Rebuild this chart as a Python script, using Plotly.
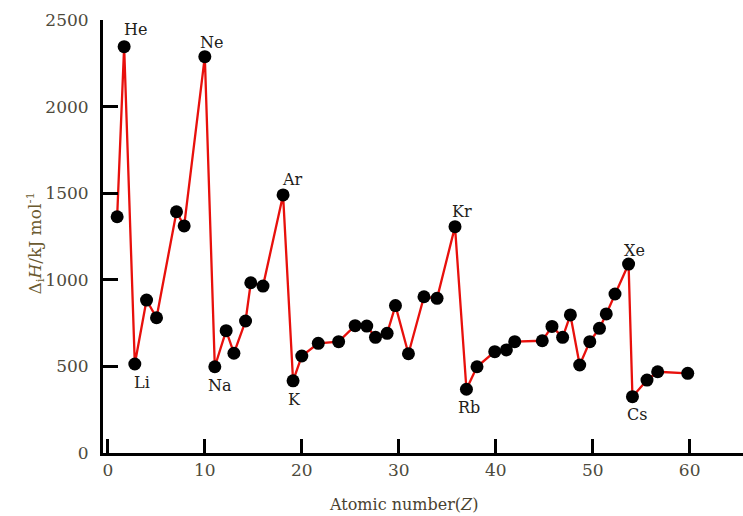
import plotly.graph_objects as go

# Data
atomic_number = [0.96, 1.68, 2.78, 3.99, 5.02, 7.08, 7.87, 10.0, 11.03, 12.2,
                 13.0, 14.2, 14.74, 16.0, 18.07, 19.1, 20.0, 21.7, 23.8, 25.5,
                 26.7, 27.6, 28.8, 29.66, 31.0, 32.6, 33.95, 35.8, 36.98, 38.07,
                 39.9, 41.1, 41.96, 44.8, 45.8, 46.9, 47.7, 48.66, 49.7, 50.7,
                 51.4, 52.3, 53.7, 54.1, 55.6, 56.7, 59.8]
ionization_enthalpy = [1364, 2346, 514, 883, 781, 1393, 1311, 2288, 498, 706,
                       576, 762, 983, 964, 1490, 417, 560, 633, 643, 735,
                       733, 668, 691, 851, 573, 902, 893, 1307, 368, 498,
                       585, 595, 643, 648, 731, 668, 797, 508, 643, 720,
                       803, 918, 1091, 325, 421, 469, 460]

element_labels = ["He", "Li", "Ne", "Na", "Ar", "K", "Kr", "Rb", "Xe", "Cs"]
label_index = [1, 2, 7, 8, 14, 15, 27, 28, 42, 43]

y_ticks = [0, 500, 1000, 1500, 2000, 2500]
x_ticks = [0, 10, 20, 30, 40, 50, 60]

# label offsets in pixels (style, not data)
label_offsets = {"He": (11, 17), "Ne": (7, 14), "Ar": (9, 15), "Kr": (7, 15), "Xe": (6, 14),
                 "Li": (7, -19), "Na": (5, -19), "K": (1, -19), "Rb": (3, -18), "Cs": (5, -18)}

SERIF = "DejaVu Serif"
TICK_COLOR = "#4d4a3c"

fig = go.Figure()
fig.add_trace(go.Scatter(
    x=atomic_number, y=ionization_enthalpy, mode="lines+markers",
    line=dict(color="#e8100c", width=2.3),
    marker=dict(color="black", size=13),
    showlegend=False, hoverinfo="x+y",
))

for name, idx in zip(element_labels, label_index):
    dx, dy = label_offsets[name]
    fig.add_annotation(x=atomic_number[idx], y=ionization_enthalpy[idx], text=name,
                       showarrow=False, xshift=dx, yshift=dy,
                       font=dict(family=SERIF, size=16, color="#222018"))

fig.add_annotation(xref="paper", yref="paper", x=-0.128, y=0.485,
                   text="Δ<sub>i</sub><i>H</i>/kJ mol<sup>-1</sup>", textangle=-90,
                   showarrow=False, font=dict(family=SERIF, size=17, color="#6b5a30"))
fig.add_annotation(xref="paper", yref="paper", x=0.47, y=-0.118, yanchor="middle",
                   text="Atomic number(<i>Z</i>)",
                   showarrow=False, font=dict(family=SERIF, size=16, color="#4a4230"))

fig.update_layout(
    width=743, height=516,
    margin=dict(l=103, r=0, t=20, b=63),
    paper_bgcolor="white", plot_bgcolor="white",
    xaxis=dict(range=[-0.5, 65.5], tickvals=x_ticks, ticks="inside", ticklen=14,
               tickwidth=3, tickcolor="black", showline=True, linecolor="black",
               linewidth=3, showgrid=False, zeroline=False,
               tickfont=dict(family=SERIF, size=17, color=TICK_COLOR)),
    yaxis=dict(range=[0, 2500], tickvals=y_ticks, ticks="inside", ticklen=15,
               tickwidth=3, tickcolor="black", showline=True, linecolor="black",
               linewidth=3, showgrid=False, zeroline=False, ticklabelstandoff=8,
               tickfont=dict(family=SERIF, size=17, color=TICK_COLOR)),
)

fig.write_html("out.html", config={"displayModeBar": False},
               post_script="document.body.style.margin='0';document.body.style.overflow='hidden';")
